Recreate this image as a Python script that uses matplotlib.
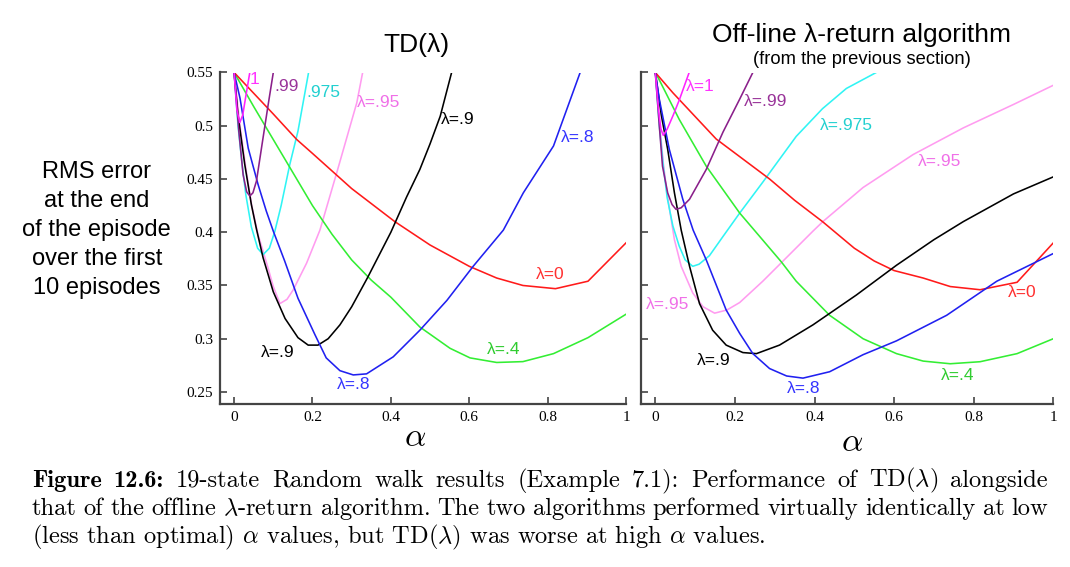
import matplotlib
matplotlib.use("Agg")
import matplotlib.pyplot as plt

plt.rcParams['mathtext.fontset'] = 'cm'

# --- TD(lambda), left panel: alpha vs RMS error ---
td_lam0_a = [0, 0.1, 0.16, 0.2, 0.3, 0.41, 0.5, 0.6, 0.67, 0.737, 0.82, 0.903, 1.0]
td_lam0_e = [0.55, 0.511, 0.487, 0.474, 0.441, 0.41, 0.388, 0.368, 0.357, 0.35, 0.347, 0.354, 0.39]
td_lam4_a = [0, 0.05, 0.1, 0.15, 0.2, 0.25, 0.3, 0.35, 0.4, 0.474, 0.551, 0.602, 0.67, 0.737, 0.815, 0.903, 1.0]
td_lam4_e = [0.55, 0.518, 0.487, 0.456, 0.425, 0.398, 0.374, 0.355, 0.339, 0.311, 0.291, 0.282, 0.2777, 0.2785, 0.286, 0.301, 0.323]
td_lam8_a = [0, 0.015, 0.036, 0.061, 0.082, 0.1, 0.129, 0.163, 0.206, 0.235, 0.27, 0.304, 0.338, 0.406,
             0.474, 0.543, 0.61, 0.687, 0.738, 0.815, 0.883]
td_lam8_e = [0.55, 0.526, 0.479, 0.445, 0.42, 0.401, 0.373, 0.338, 0.304, 0.282, 0.27, 0.266, 0.267, 0.283,
             0.308, 0.336, 0.368, 0.402, 0.437, 0.481, 0.55]
td_lam9_a = [0, 0.01, 0.027, 0.044, 0.057, 0.074, 0.1, 0.13, 0.163, 0.189, 0.214, 0.24, 0.27, 0.3, 0.34,
             0.4, 0.44, 0.474, 0.5, 0.526, 0.555]
td_lam9_e = [0.55, 0.51, 0.464, 0.426, 0.403, 0.376, 0.344, 0.319, 0.301, 0.294, 0.294, 0.3, 0.313, 0.33, 0.357,
             0.4, 0.433, 0.459, 0.483, 0.509, 0.55]
td_lam95_a = [0, 0.015, 0.03, 0.045, 0.061, 0.087, 0.1, 0.117, 0.135, 0.151, 0.185, 0.219, 0.262, 0.313, 0.328]
td_lam95_e = [0.55, 0.5, 0.46, 0.425, 0.398, 0.366, 0.349, 0.333, 0.337, 0.346, 0.371, 0.402, 0.456, 0.5215, 0.55]
td_lam975_a = [0, 0.01, 0.02, 0.03, 0.044, 0.06, 0.074, 0.09, 0.104, 0.12, 0.142, 0.163, 0.19]
td_lam975_e = [0.55, 0.5, 0.465, 0.435, 0.405, 0.385, 0.379, 0.385, 0.401, 0.425, 0.4635, 0.495, 0.55]
td_lam99_a = [0, 0.012, 0.023, 0.032, 0.04, 0.048, 0.057, 0.074, 0.087, 0.1]
td_lam99_e = [0.55, 0.495, 0.454, 0.438, 0.434, 0.437, 0.448, 0.489, 0.52, 0.55]
td_lam1_a = [0, 0.007, 0.0145, 0.022, 0.03, 0.04]
td_lam1_e = [0.55, 0.515, 0.503, 0.51, 0.528, 0.55]

# --- Off-line lambda-return algorithm, right panel ---
off_lam0_a = [0, 0.044, 0.153, 0.287, 0.35, 0.42, 0.5, 0.55, 0.6, 0.673, 0.741, 0.816, 0.909, 1.0]
off_lam0_e = [0.55, 0.531, 0.4875, 0.45, 0.43, 0.41, 0.385, 0.373, 0.364, 0.357, 0.349, 0.346, 0.353, 0.39]
off_lam4_a = [0, 0.01, 0.06, 0.128, 0.212, 0.26, 0.317, 0.354, 0.438, 0.522, 0.606, 0.673, 0.741, 0.816, 0.909, 1.0]
off_lam4_e = [0.55, 0.543, 0.506, 0.462, 0.418, 0.397, 0.372, 0.354, 0.322, 0.3, 0.286, 0.279, 0.2765, 0.2784, 0.286, 0.3]
off_lam8_a = [0, 0.01, 0.035, 0.069, 0.095, 0.128, 0.178, 0.212, 0.245, 0.287, 0.33, 0.371, 0.438, 0.522,
              0.606, 0.732, 0.858, 1.0]
off_lam8_e = [0.55, 0.525, 0.478, 0.431, 0.402, 0.374, 0.327, 0.305, 0.286, 0.272, 0.265, 0.263, 0.269, 0.285,
              0.298, 0.322, 0.354, 0.38]
off_lam9_a = [0, 0.015, 0.031, 0.048, 0.065, 0.086, 0.111, 0.144, 0.178, 0.22, 0.254, 0.312, 0.396, 0.505,
              0.606, 0.7, 0.774, 0.9, 1.0]
off_lam9_e = [0.55, 0.51, 0.478, 0.437, 0.402, 0.368, 0.333, 0.308, 0.294, 0.287, 0.286, 0.294, 0.313, 0.341,
              0.369, 0.393, 0.41, 0.436, 0.452]
off_lam95_a = [0, 0.01, 0.02, 0.03, 0.048, 0.065, 0.094, 0.12, 0.149, 0.18, 0.212, 0.27, 0.321, 0.396, 0.421,
               0.522, 0.648, 0.774, 0.9, 1.0]
off_lam95_e = [0.55, 0.505, 0.465, 0.435, 0.393, 0.368, 0.343, 0.33, 0.324, 0.327, 0.334, 0.354, 0.373, 0.401, 0.41,
               0.442, 0.473, 0.498, 0.52, 0.538]
off_lam975_a = [0, 0.01, 0.02, 0.03, 0.044, 0.06, 0.075, 0.094, 0.11, 0.136, 0.17, 0.212, 0.27, 0.354, 0.42, 0.48, 0.565]
off_lam975_e = [0.55, 0.5, 0.462, 0.432, 0.406, 0.387, 0.374, 0.368, 0.37, 0.378, 0.396, 0.418, 0.447, 0.49, 0.516,
                0.535, 0.552]
off_lam99_a = [0, 0.01, 0.018, 0.031, 0.042, 0.052, 0.065, 0.086, 0.128, 0.17, 0.212, 0.245]
off_lam99_e = [0.55, 0.5, 0.462, 0.437, 0.426, 0.4215, 0.423, 0.431, 0.459, 0.494, 0.525, 0.55]
off_lam1_a = [0, 0.008, 0.014, 0.02, 0.03, 0.045, 0.06, 0.085]
off_lam1_e = [0.55, 0.515, 0.497, 0.491, 0.497, 0.51, 0.524, 0.55]

x_ticks = [0, 0.2, 0.4, 0.6, 0.8, 1]
x_ticklabels = ["0", "0.2", "0.4", "0.6", "0.8", "1"]
y_ticks = [0.25, 0.3, 0.35, 0.4, 0.45, 0.5, 0.55]
y_ticklabels = ["0.25", "0.3", "0.35", "0.4", "0.45", "0.5", "0.55"]

caption_1 = ["Figure", "12.6:", "19-state", "Random", "walk", "results", "(Example", "7.1):",
             "Performance", "of", r"TD($\lambda$)", "alongside"]
caption_2 = ["that", "of", "the", "offline", r"$\lambda$-return", "algorithm.", "The", "two", "algorithms",
             "performed", "virtually", "identically", "at", "low"]
caption_3 = r"(less than optimal) $\alpha$ values, but TD($\lambda$) was worse at high $\alpha$ values."

RED, GREEN, BLUE, BLACK = "#ff1a1a", "#33ee33", "#2020f0", "#000000"
PINK, CYAN, PURPLE, MAGENTA = "#ff9cf0", "#30f4f4", "#8a1f8a", "#ff22ff"

fig = plt.figure(figsize=(10.7, 5.67), dpi=100)
W, H = 1070.0, 567.0

def px_axes(x0, y0, x1, y1):
  return fig.add_axes([x0 / W, 1 - y1 / H, (x1 - x0) / W, (y1 - y0) / H])

ax_l = px_axes(220, 72.5, 626, 404)
ax_r = px_axes(641, 72.5, 1053.3, 404)

def style(ax, labels):
  ax.set_xlim(-0.036, 1.0)
  ax.set_ylim(0.2387, 0.55)
  for s in ("top", "right"):
    ax.spines[s].set_visible(False)
  for s in ("left", "bottom"):
    ax.spines[s].set_color("#444444")
    ax.spines[s].set_linewidth(1.6)
  ax.set_xticks(x_ticks)
  ax.set_xticklabels(x_ticklabels, family="Liberation Serif", fontsize=11)
  ax.set_yticks(y_ticks)
  if labels:
    ax.set_yticklabels(y_ticklabels, family="Liberation Serif", fontsize=11)
  else:
    ax.set_yticklabels([])
  ax.tick_params(direction="in", length=5, width=1.2, color="#444444", pad=5)
  ax.patch.set_alpha(0)

style(ax_l, True)
style(ax_r, False)

lw = 1.15
# draw order: lighter curves first
for ax, curves in (
  (ax_l, [(td_lam95_a, td_lam95_e, PINK), (td_lam975_a, td_lam975_e, CYAN), (td_lam4_a, td_lam4_e, GREEN),
          (td_lam0_a, td_lam0_e, RED), (td_lam9_a, td_lam9_e, BLACK), (td_lam8_a, td_lam8_e, BLUE),
          (td_lam99_a, td_lam99_e, PURPLE), (td_lam1_a, td_lam1_e, MAGENTA)]),
  (ax_r, [(off_lam95_a, off_lam95_e, PINK), (off_lam975_a, off_lam975_e, CYAN), (off_lam4_a, off_lam4_e, GREEN),
          (off_lam0_a, off_lam0_e, RED), (off_lam9_a, off_lam9_e, BLACK), (off_lam8_a, off_lam8_e, BLUE),
          (off_lam99_a, off_lam99_e, PURPLE), (off_lam1_a, off_lam1_e, MAGENTA)]),
):
  for xs, ys, c in curves:
    ax.plot(xs, ys, color=c, lw=lw, solid_joinstyle="round")

lab = dict(family="Liberation Sans", fontsize=12.5, va="center", ha="left")
ax_l.text(0.040, 0.543, "1", color="#ff33ff", **lab)
ax_l.text(0.104, 0.537, ".99", color="#993399", **lab)
ax_l.text(0.185, 0.531, ".975", color="#22d0d0", **lab)
ax_l.text(0.314, 0.5215, "λ=.95", color="#f070e8", **lab)
ax_l.text(0.528, 0.506, "λ=.9", color="#000000", **lab)
ax_l.text(0.834, 0.4886, "λ=.8", color="#3535ff", **lab)
ax_l.text(0.770, 0.360, "λ=0", color="#ff3030", **lab)
ax_l.text(0.646, 0.2896, "λ=.4", color="#30cc30", **lab)
ax_l.text(0.069, 0.2866, "λ=.9", color="#000000", **lab)
ax_l.text(0.263, 0.257, "λ=.8", color="#3535ff", **lab)

ax_r.text(0.076, 0.537, "λ=1", color="#ff33ff", **lab)
ax_r.text(0.222, 0.5226, "λ=.99", color="#993399", **lab)
ax_r.text(0.413, 0.500, "λ=.975", color="#22d0d0", **lab)
ax_r.text(0.659, 0.466, "λ=.95", color="#f070e8", **lab)
ax_r.text(0.885, 0.343, "λ=0", color="#ff3030", **lab)
ax_r.text(-0.025, 0.332, "λ=.95", color="#f070e8", **lab)
ax_r.text(0.105, 0.280, "λ=.9", color="#000000", **lab)
ax_r.text(0.331, 0.253, "λ=.8", color="#3535ff", **lab)
ax_r.text(0.718, 0.265, "λ=.4", color="#30cc30", **lab)

# titles and axis labels
fig.text(416 / W, 1 - 45 / H, "TD(λ)", family="Liberation Sans", fontsize=19, ha="center", va="center")
fig.text(862 / W, 1 - 35 / H, "Off-line λ-return algorithm", family="Liberation Sans", fontsize=19,
         ha="center", va="center")
fig.text(862 / W, 1 - 60 / H, "(from the previous section)", family="Liberation Sans", fontsize=13.2,
         ha="center", va="center")
fig.text(96.7 / W, 1 - 230 / H, "RMS error\nat the end\nof the episode\nover the first\n10 episodes",
         family="Liberation Sans", fontsize=17, ha="center", va="center", linespacing=1.41)
fig.text(415 / W, 1 - 437 / H, r"$\alpha$", fontsize=24, ha="center", va="center")
fig.text(852 / W, 1 - 442 / H, r"$\alpha$", fontsize=24, ha="center", va="center")

# caption, first two lines justified word by word
CAP_SIZE = 17.6
renderer = fig.canvas.get_renderer()

def justify(words, base_y, x0, x1, bold_n=0):
  texts = []
  for i, w in enumerate(words):
    fam = "cmb10" if i < bold_n else "cmr10"
    texts.append(fig.text(0, 1 - base_y / H, w, family=fam, fontsize=CAP_SIZE, va="baseline", ha="left"))
  widths = [t.get_window_extent(renderer).width for t in texts]
  gap = (x1 - x0 - sum(widths)) / (len(words) - 1)
  x = x0
  for t, w in zip(texts, widths):
    t.set_x(x / W)
    x += w + gap

justify(caption_1, 486.7, 31.7, 1048, bold_n=2)
justify(caption_2, 515, 31.7, 1048)
fig.text(31.7 / W, 1 - 543.3 / H, caption_3, family="cmr10", fontsize=CAP_SIZE, va="baseline", ha="left")

fig.savefig("out.png", dpi=100)
